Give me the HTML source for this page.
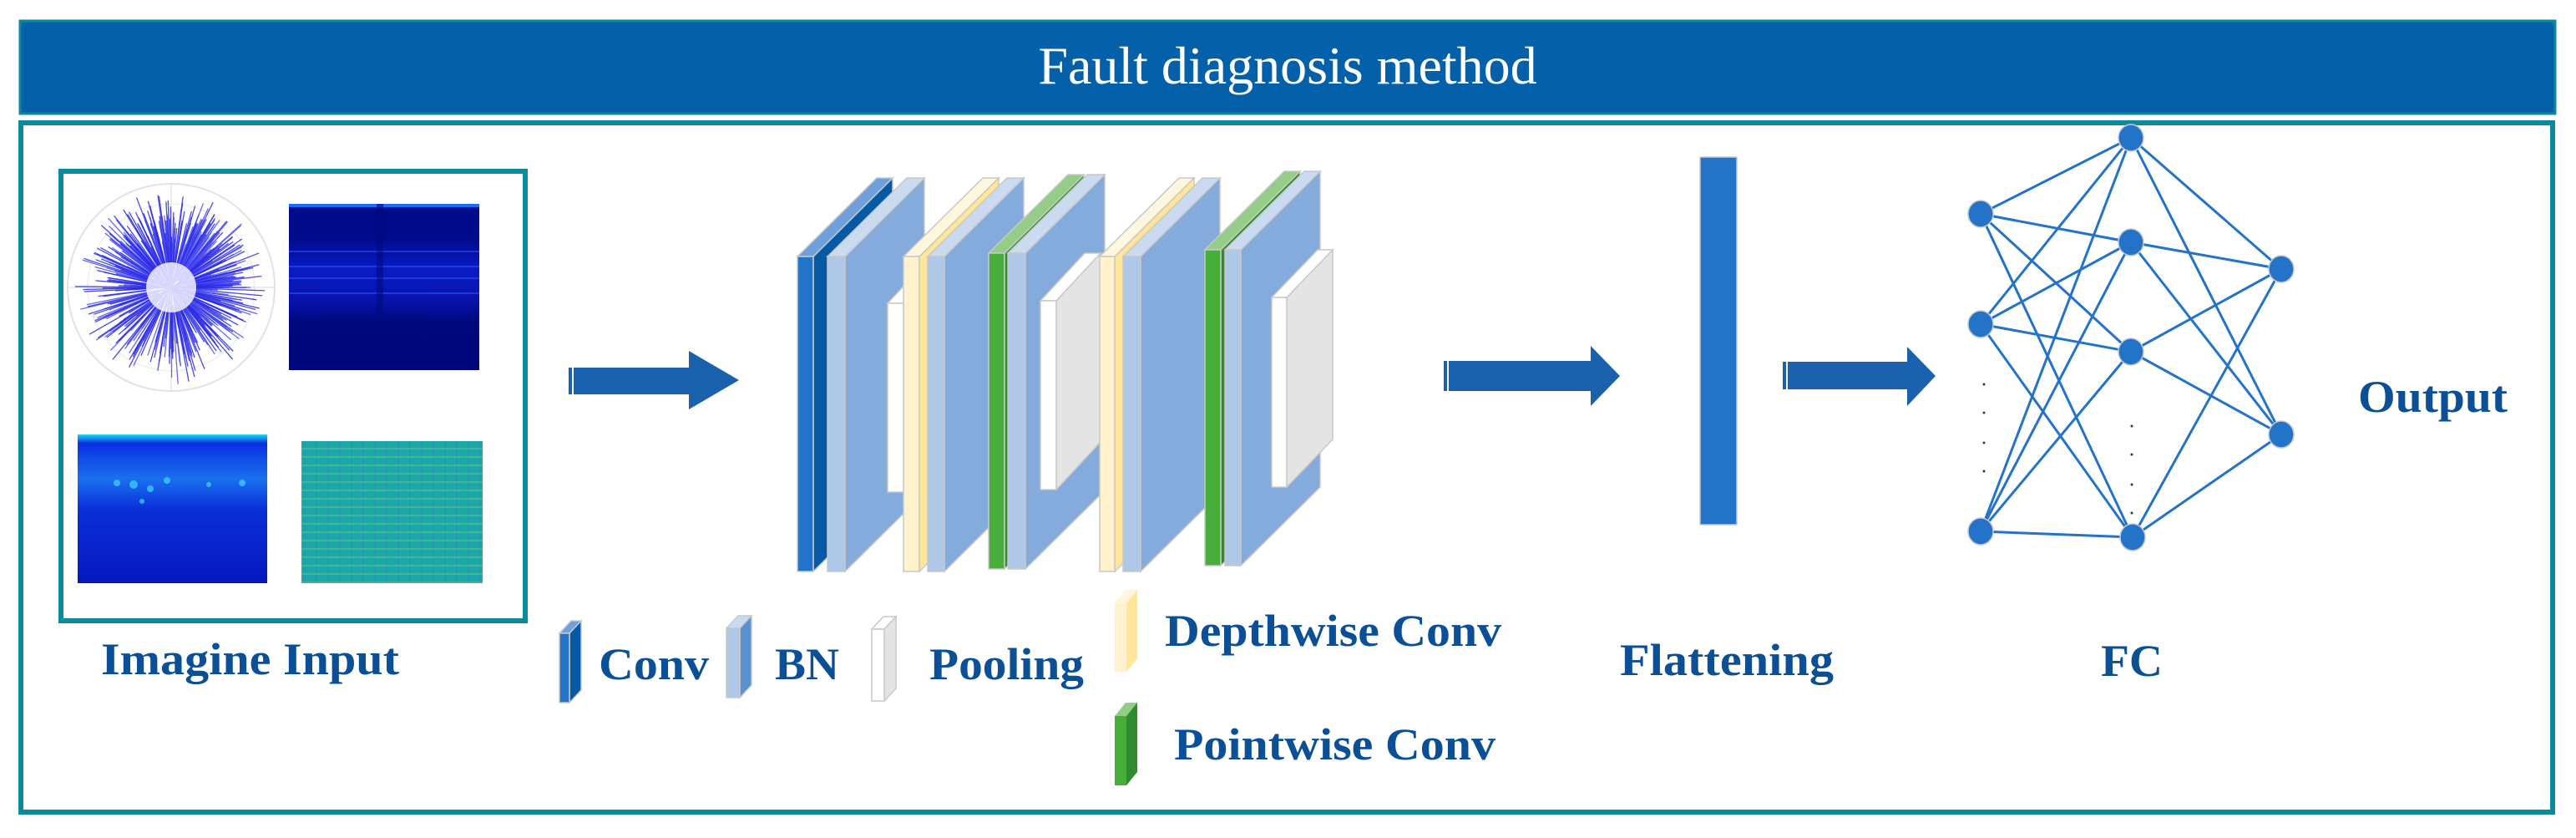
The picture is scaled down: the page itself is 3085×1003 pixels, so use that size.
<!DOCTYPE html>
<html><head><meta charset="utf-8"><style>
html,body{margin:0;padding:0;background:#fff;}
svg{display:block;}
text{font-family:"Liberation Serif",serif;}
.lb{font-weight:bold;fill:#0B4F96;font-size:54px;}
</style></head><body>
<svg id="s" width="3085" height="1003" viewBox="0 0 3085 1003" xmlns="http://www.w3.org/2000/svg">
<defs>
<linearGradient id="sp1" x1="0" y1="0" x2="0" y2="1">
<stop offset="0" stop-color="#0a2fd8"/><stop offset="0.04" stop-color="#000a8a"/><stop offset="0.2" stop-color="#000a8a"/><stop offset="0.4" stop-color="#0a1cc4"/><stop offset="0.6" stop-color="#0612a8"/><stop offset="0.7" stop-color="#00087e"/><stop offset="1" stop-color="#00067a"/>
</linearGradient>
<linearGradient id="sp2" x1="0" y1="0" x2="0" y2="1">
<stop offset="0" stop-color="#20d8f0"/><stop offset="0.06" stop-color="#0a30e0"/><stop offset="0.3" stop-color="#1a70f0"/><stop offset="0.5" stop-color="#0a30d8"/><stop offset="1" stop-color="#0618c0"/>
</linearGradient>
<pattern id="grid" width="14" height="10" patternUnits="userSpaceOnUse">
<rect width="14" height="10" fill="#1aa8a8"/><rect x="0" y="0" width="2" height="10" fill="#2a8fbf" opacity="0.6"/><rect x="0" y="6" width="14" height="2" fill="#5cbf80" opacity="0.6"/>
</pattern>
</defs>
<rect x="24" y="25" width="3036" height="111" fill="#0460A9" stroke="#0B8A9B" stroke-width="3"/>
<text x="1542" y="100" text-anchor="middle" font-size="64" fill="#fff">Fault diagnosis method</text>
<rect x="25" y="147" width="3032" height="825" fill="#fff" stroke="#0B8A9B" stroke-width="6"/>
<rect x="73" y="205" width="556" height="538" fill="#fff" stroke="#0B8A9B" stroke-width="6"/>
<g id="polar">
<circle cx="205" cy="344" r="124" fill="none" stroke="#e2e2e2" stroke-width="2"/>
<circle cx="205" cy="344" r="100" fill="none" stroke="#eeeeee" stroke-width="1.5"/>
<line x1="81" y1="344" x2="329" y2="344" stroke="#e6e6e6" stroke-width="1.5"/>
<line x1="205" y1="220" x2="205" y2="468" stroke="#e6e6e6" stroke-width="1.5"/>
</g>
<rect x="346" y="244" width="228" height="199" fill="url(#sp1)"/>
<rect x="346" y="244" width="228" height="4" fill="#1a6cf0"/>
<g fill="#2a50ff" opacity="0.6"><rect x="346" y="300" width="228" height="2"/><rect x="346" y="318" width="228" height="2"/><rect x="346" y="332" width="228" height="2"/><rect x="346" y="350" width="228" height="2"/></g>
<rect x="451" y="244" width="8" height="150" fill="#000a80" opacity="0.6"/>
<rect x="93" y="520" width="227" height="178" fill="url(#sp2)"/>
<g fill="#40d8f8" opacity="0.7"><circle cx="140" cy="578" r="4"/><circle cx="160" cy="580" r="5"/><circle cx="180" cy="585" r="4"/><circle cx="200" cy="575" r="4"/><circle cx="250" cy="580" r="3"/><circle cx="290" cy="578" r="4"/><circle cx="170" cy="600" r="3"/></g>
<rect x="361" y="528" width="217" height="170" fill="url(#grid)"/>
<text class="lb" x="121" y="807" textLength="357" lengthAdjust="spacingAndGlyphs">Imagine Input</text>
<g fill="#1A62AD">
<polygon points="681,440 825,440 825,420 885,455 825,490 825,472 681,472"/>
<polygon points="1729,432 1905,432 1905,414 1940,450 1905,486 1905,468 1729,468"/>
<polygon points="2135,433 2284,433 2284,415 2318,450 2284,486 2284,466 2135,466"/>
</g>
<g stroke="#fff" stroke-width="2"><line x1="686" y1="440" x2="686" y2="472"/><line x1="1734" y1="432" x2="1734" y2="468"/><line x1="2140" y1="433" x2="2140" y2="466"/></g>
<g id="stack"></g>
<g stroke="#c8c8c8" stroke-width="1.5">
<polygon points="670,758 684,743 696,743 682,758" fill="#6FA0DC"/><polygon points="682,758 696,743 696,826 682,841" fill="#0559A5"/><rect x="670" y="758" width="12" height="83" fill="#2373C8"/>
<polygon points="870,752 884,737 900,737 886,752" fill="#CADAEF"/><polygon points="886,752 900,737 900,820 886,835" fill="#5A8FD0"/><rect x="870" y="752" width="16" height="83" fill="#AFC8E8"/>
<polygon points="1044,753 1058,738 1073,738 1059,753" fill="#fff"/><polygon points="1059,753 1073,738 1073,824 1059,839" fill="#E4E4E4"/><rect x="1044" y="753" width="15" height="86" fill="#fff"/>
<polygon points="1335,722 1348,706 1362,706 1349,722" fill="#FFF7DD" stroke="none"/><polygon points="1349,722 1362,706 1362,788 1349,804" fill="#FFE699" stroke="none"/><rect x="1335" y="722" width="14" height="82" fill="#FFF2CC" stroke="none"/>
<polygon points="1335,857 1348,841 1362,841 1349,857" fill="#93CD87" stroke="none"/><polygon points="1349,857 1362,841 1362,924 1349,940" fill="#2E8B2E" stroke="none"/><rect x="1335" y="857" width="14" height="83" fill="#48AE3B" stroke="none"/>
</g>
<text class="lb" x="717" y="813" textLength="132" lengthAdjust="spacingAndGlyphs">Conv</text>
<text class="lb" x="928" y="813" textLength="77" lengthAdjust="spacingAndGlyphs">BN</text>
<text class="lb" x="1113" y="813" textLength="185" lengthAdjust="spacingAndGlyphs">Pooling</text>
<text class="lb" x="1395" y="773" textLength="403" lengthAdjust="spacingAndGlyphs">Depthwise Conv</text>
<text class="lb" x="1406" y="909" textLength="385" lengthAdjust="spacingAndGlyphs">Pointwise Conv</text>
<rect x="2036" y="188" width="44" height="440" fill="#2373C8" stroke="#c8c8c8" stroke-width="1.5"/>
<text class="lb" x="1940" y="808" textLength="256" lengthAdjust="spacingAndGlyphs">Flattening</text>
<g id="fc"></g>
<text class="lb" x="2516" y="809" textLength="74" lengthAdjust="spacingAndGlyphs">FC</text>
<text class="lb" x="2824" y="493" textLength="179" lengthAdjust="spacingAndGlyphs">Output</text>
</svg>
<script>
var NS="http://www.w3.org/2000/svg";
function el(p,t,a){var e=document.createElementNS(NS,t);for(var k in a)e.setAttribute(k,a[k]);p.appendChild(e);return e;}
var seed=7;function rnd(){seed=(seed*16807)%2147483647;return seed/2147483647;}
var pg=document.getElementById("polar");
for(var i=0;i<450;i++){var a=rnd()*Math.PI*2;var r=45+rnd()*45+rnd()*30;var r0=rnd()*30;
el(pg,"line",{x1:205+r0*Math.cos(a),y1:344+r0*Math.sin(a),x2:205+r*Math.cos(a),y2:344+r*Math.sin(a),stroke:i%3?"#2a2ae8":"#5050f0","stroke-width":1.3,"stroke-opacity":0.85});}
el(pg,"circle",{cx:205,cy:344,r:30,fill:"#fff","fill-opacity":0.8});
var st=document.getElementById("stack");
var C={conv:["#2373C8","#0559A5","#6FA0DC"],bn:["#AFC8E8","#84ABDC","#CADAEF"],pool:["#FFFFFF","#E4E4E4","#FFFFFF"],dw:["#FFF2CC","#FFE699","#FFF7DD"],pw:["#48AE3B","#2E8B2E","#93CD87"]};
var L=[["conv",955,974,307,684,95,94],["bn",991,1012,307,684,95,94],["pool",1063,1082,363,589,53,57],["dw",1082,1101,307,684,95,94],["bn",1111,1131,307,684,95,94],
["pw",1184,1203,303,681,95,94],["bn",1207,1228,303,681,95,94],["pool",1246,1265,360,586,53,57],["dw",1317,1335,307,684,95,94],["bn",1345,1366,307,684,95,94],
["pw",1443,1462,299,677,95,94],["bn",1467,1486,299,677,95,94],["pool",1523,1541,356,583,55,57]];
L.forEach(function(l){var c=C[l[0]],x0=l[1],x1=l[2],y0=l[3],y1=l[4],dx=l[5],dy=l[6];
el(st,"polygon",{points:[x1,y0,x1+dx,y0-dy,x1+dx,y1-dy,x1,y1].join(","),fill:c[1],stroke:"#c8c8c8","stroke-width":1.5});
el(st,"polygon",{points:[x0,y0,x0+dx,y0-dy,x1+dx,y0-dy,x1,y0].join(","),fill:c[2],stroke:"#c8c8c8","stroke-width":1.5});
el(st,"rect",{x:x0,y:y0,width:x1-x0,height:y1-y0,fill:c[0],stroke:"#c8c8c8","stroke-width":1.5});});
var fc=document.getElementById("fc");
var A=[[2372,256],[2372,388],[2372,636]],B=[[2552,165],[2552,290],[2552,421],[2554,643]],O=[[2732,322],[2732,520]];
function conn(P,Q){P.forEach(function(p){Q.forEach(function(q){el(fc,"line",{x1:p[0],y1:p[1],x2:q[0],y2:q[1],stroke:"#2373C8","stroke-width":3});});});}
conn(A,B);conn(B,O);
[460,494,530,564].forEach(function(y){el(fc,"circle",{cx:2376,cy:y,r:1.5,fill:"#335"});});
[510,544,580,614].forEach(function(y){el(fc,"circle",{cx:2553,cy:y,r:1.5,fill:"#335"});});
A.concat(B,O).forEach(function(p){el(fc,"ellipse",{cx:p[0],cy:p[1],rx:15,ry:16,fill:"#2373C8",stroke:"#c8c8c8","stroke-width":1.5});});
</script>
</body></html>
